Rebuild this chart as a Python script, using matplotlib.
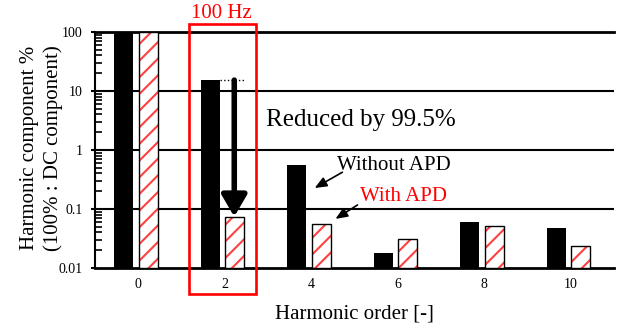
import numpy as np
import matplotlib.pyplot as plt
from matplotlib.ticker import FixedLocator, FixedFormatter, LogLocator, NullFormatter

plt.rcParams["font.family"] = ["Liberation Serif", "DejaVu Serif"]
plt.rcParams["hatch.linewidth"] = 1.5

# Harmonic spectrum (% of DC component)
orders = [0, 2, 4, 6, 8, 10]
without_apd = [100, 15.3, 0.56, 0.018, 0.061, 0.048]
with_apd = [100, 0.074, 0.055, 0.031, 0.052, 0.024]
ytick_vals = [0.01, 0.1, 1, 10, 100]
ytick_text = ["0.01", "0.1", "1", "10", "100"]

fig = plt.figure(figsize=(6.23, 3.25), dpi=100)
ax = fig.add_axes([0.1525, 0.1754, 0.833, 0.7261])

x = np.array(orders, dtype=float)
w = 0.44
bottom = 0.01
wo = np.array(without_apd)
wi = np.array(with_apd)

# gridlines at each decade
for v in ytick_vals[1:]:
    ax.axhline(v, color="black", lw=1.5, zorder=1)

ax.bar(x - 0.335, wo - bottom, width=w, bottom=bottom, color="black", zorder=3)
# hatched bars: red hatch underneath, black outline on top
ax.bar(x + 0.23, wi - bottom, width=w, bottom=bottom, color="white",
       edgecolor="#ff4040", hatch="//", lw=0, zorder=3)
ax.bar(x + 0.23, wi - bottom, width=w, bottom=bottom, fill=False,
       edgecolor="black", lw=1.0, zorder=4)

ax.set_yscale("log")
ax.set_ylim(0.01, 100)
ax.set_xlim(-1, 11)
ax.set_xticks(orders)
ax.set_xticklabels([str(o) for o in orders], fontsize=10)
ax.tick_params(axis="x", length=0, pad=7)

ax.yaxis.set_major_locator(FixedLocator(ytick_vals))
ax.yaxis.set_major_formatter(FixedFormatter(ytick_text))
ax.yaxis.set_minor_locator(LogLocator(base=10, subs=np.arange(2, 10)))
ax.yaxis.set_minor_formatter(NullFormatter())
ax.tick_params(axis="y", which="major", direction="out", length=3, width=1.5,
               labelsize=10, pad=6)
ax.tick_params(axis="y", which="minor", direction="in", length=5, width=1.2)

ax.spines["right"].set_visible(False)
ax.spines["top"].set_linewidth(2)
ax.spines["bottom"].set_linewidth(2)
ax.spines["left"].set_linewidth(1.5)

ax.set_xlabel("Harmonic order [-]", fontsize=15, labelpad=10)
fig.text(0.066, 0.545, "Harmonic component %\n(100% : DC component)",
         fontsize=15, rotation=90, ha="center", va="center",
         multialignment="center", linespacing=1.3)

# 100 Hz highlight box
trans = ax.get_xaxis_transform()
ax.add_patch(plt.Rectangle((1.17, -0.11), 1.56, 1.144, transform=trans,
                           fill=False, edgecolor="red", lw=1.9,
                           clip_on=False, zorder=6))
ax.text(1.93, 1.078, "100 Hz", transform=trans, color="red", fontsize=15,
        ha="center", va="center")

# reduction arrow at the 2nd harmonic
ax.plot([2 - 0.115, 2 + 0.45], [wo[1], wo[1]], color="black", ls=":", lw=1,
        zorder=5)
ax.annotate("", xy=(2.22, wi[1]), xytext=(2.22, wo[1]),
            arrowprops=dict(arrowstyle="-|>,head_width=0.38,head_length=0.65",
                            lw=4, color="black", mutation_scale=20,
                            shrinkA=0, shrinkB=0), zorder=6)
ax.text(2.95, 3.2, "Reduced by 99.5%", fontsize=18, va="center", ha="left")

# series labels
ax.text(4.6, 0.54, "Without APD", fontsize=15, va="center", ha="left")
ax.text(5.12, 0.166, "With APD", fontsize=15, va="center", ha="left",
        color="red")
ax.annotate("", xy=(4.08, 0.227), xytext=(4.72, 0.42),
            arrowprops=dict(arrowstyle="-|>,head_width=0.25,head_length=0.6",
                            lw=1.2, color="black", mutation_scale=12,
                            shrinkA=0, shrinkB=0))
ax.annotate("", xy=(4.56, 0.068), xytext=(5.07, 0.117),
            arrowprops=dict(arrowstyle="-|>,head_width=0.25,head_length=0.6",
                            lw=1.2, color="black", mutation_scale=12,
                            shrinkA=0, shrinkB=0))

fig.savefig("out.png", dpi=100)
